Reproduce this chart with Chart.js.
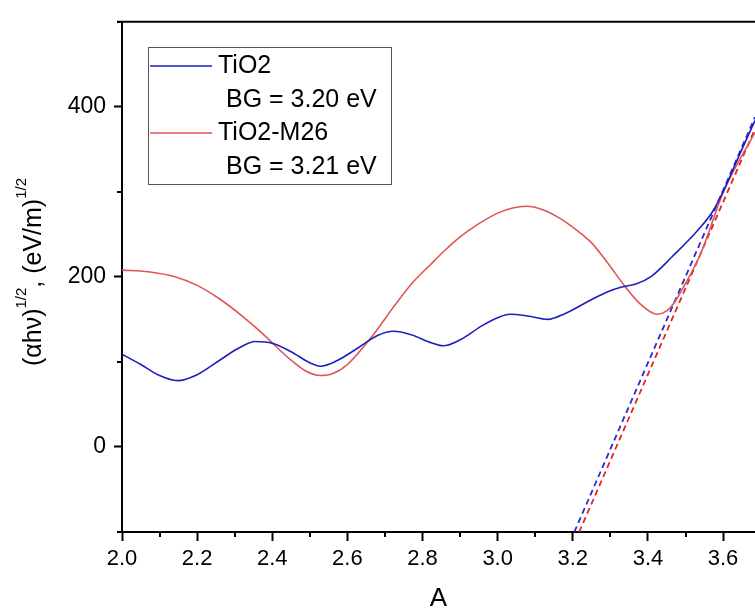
<!DOCTYPE html>
<html>
<head>
<meta charset="utf-8">
<script src="https://cdn.jsdelivr.net/npm/chart.js@4.4.1/dist/chart.umd.min.js"></script>
<style>
  html, body { margin: 0; padding: 0; background: #fff; }
</style>
</head>
<body>
<canvas id="chart" width="755" height="608"></canvas>
<script>
// photon energy (eV) and Tauc values
var tio2X = [2.00, 2.05, 2.10, 2.148, 2.20, 2.26, 2.31, 2.355, 2.40, 2.45, 2.50, 2.528, 2.57, 2.63, 2.68, 2.722, 2.77, 2.82, 2.855, 2.90, 2.96, 3.00, 3.032, 3.08, 3.133, 3.18, 3.24, 3.29, 3.33, 3.37, 3.41, 3.465, 3.531, 3.571, 3.60, 3.64, 3.685];
var tio2Y = [109, 97, 84, 78, 85, 102, 116, 124, 122, 112, 99, 95, 101, 117, 131, 136, 132, 123, 119, 126, 143, 152, 156, 154, 150, 157, 171, 182, 188, 192, 201, 224, 254, 276, 300, 340, 384];
var m26X = [2.00, 2.07, 2.143, 2.20, 2.26, 2.32, 2.37, 2.408, 2.45, 2.49, 2.528, 2.56, 2.60, 2.669, 2.72, 2.771, 2.82, 2.859, 2.90, 2.948, 3.00, 3.04, 3.076, 3.12, 3.169, 3.21, 3.25, 3.29, 3.337, 3.38, 3.425, 3.45, 3.469, 3.496, 3.54, 3.602, 3.685];
var m26Y = [208, 206, 200, 190, 174, 154, 135, 119, 102, 89, 84, 86, 97, 132, 163, 192, 214, 231, 247, 262, 275, 281, 283, 279, 268, 255, 240, 218, 190, 168, 156, 160, 169, 189, 227, 301, 370];

// linear fits (dashed)
var fitTio2X = [3.204, 3.685];
var fitTio2Y = [-100, 388];
var fitM26X = [3.217, 3.685];
var fitM26Y = [-100, 374];

var xTickLabels = ["2.0", "2.2", "2.4", "2.6", "2.8", "3.0", "3.2", "3.4", "3.6"];
var yTickLabels = [0, 200, 400];

var legendLines = ["TiO2", "BG = 3.20 eV", "TiO2-M26", "BG = 3.21 eV"];

var FONT = "'Liberation Sans', Arial, sans-serif";

function pairs(xs, ys) {
    var out = [];
    for (var i = 0; i < xs.length; i++) {
        out.push({ x: xs[i], y: ys[i] });
    }
    return out;
}

function isMinorX(v) {
    return Math.round(v * 10) % 2 !== 0;
}
function isMinorY(v) {
    return Math.round(v / 100) % 2 !== 0;
}

// short minor ticks, top frame line, y title and the legend box
var decorPlugin = {
    id: "decor",
    afterDraw: function (chart) {
        var ctx = chart.ctx;
        var area = chart.chartArea;
        var xs = chart.scales.x;
        var ys = chart.scales.y;

        ctx.save();
        ctx.strokeStyle = "#000";
        ctx.lineWidth = 2;
        ctx.beginPath();
        xs.ticks.forEach(function (t) {
            if (isMinorX(t.value)) {
                var px = Math.round(xs.getPixelForValue(t.value));
                ctx.moveTo(px, area.bottom);
                ctx.lineTo(px, area.bottom + 5);
            }
        });
        ys.ticks.forEach(function (t) {
            if (isMinorY(t.value)) {
                var py = Math.round(ys.getPixelForValue(t.value));
                ctx.moveTo(area.left, py);
                ctx.lineTo(area.left - 5, py);
            }
        });
        ctx.stroke();

        // top frame
        ctx.beginPath();
        ctx.moveTo(area.left - 5, area.top);
        ctx.lineTo(area.right, area.top);
        ctx.stroke();

        // y axis title with superscripts
        var parts = [
            ["(\u03b1h\u03bd)", false],
            ["1/2", true],
            [", ", false],
            ["(eV/m)", false],
            ["1/2", true]
        ];
        var mainFont = "25px " + FONT;
        var supFont = "15px " + FONT;
        var total = 0;
        parts.forEach(function (p) {
            ctx.font = p[1] ? supFont : mainFont;
            total += ctx.measureText(p[0]).width;
        });
        ctx.translate(34, 272);
        ctx.rotate(-Math.PI / 2);
        ctx.fillStyle = "#000";
        ctx.textBaseline = "middle";
        ctx.textAlign = "left";
        var cx = -total / 2;
        parts.forEach(function (p) {
            ctx.font = p[1] ? supFont : mainFont;
            ctx.fillText(p[0], cx, p[1] ? -12 : 0);
            cx += ctx.measureText(p[0]).width;
        });
        ctx.restore();

        // legend
        ctx.save();
        ctx.fillStyle = "#fff";
        ctx.fillRect(148, 47, 243, 137);
        ctx.strokeStyle = "#555";
        ctx.lineWidth = 1;
        ctx.strokeRect(148.5, 47.5, 243, 137);
        var ds = chart.data.datasets;
        ctx.lineWidth = 1.6;
        ctx.strokeStyle = ds[0].borderColor;
        ctx.beginPath();
        ctx.moveTo(150, 66);
        ctx.lineTo(212, 66);
        ctx.stroke();
        ctx.strokeStyle = ds[1].borderColor;
        ctx.beginPath();
        ctx.moveTo(150, 133);
        ctx.lineTo(212, 133);
        ctx.stroke();
        ctx.fillStyle = "#000";
        ctx.font = "25px " + FONT;
        ctx.textBaseline = "middle";
        ctx.fillText(legendLines[0], 218, 66);
        ctx.fillText(legendLines[1], 226, 100);
        ctx.fillText(legendLines[2], 218, 133);
        ctx.fillText(legendLines[3], 226, 167);
        ctx.restore();
    }
};

var chart = new Chart(document.getElementById("chart"), {
    type: "line",
    data: {
        datasets: [
            {
                label: "TiO2",
                data: pairs(tio2X, tio2Y),
                borderColor: "#1f1fbf",
                borderWidth: 1.6,
                pointRadius: 0,
                cubicInterpolationMode: "monotone",
                fill: false
            },
            {
                label: "TiO2-M26",
                data: pairs(m26X, m26Y),
                borderColor: "#df5555",
                borderWidth: 1.6,
                pointRadius: 0,
                cubicInterpolationMode: "monotone",
                fill: false
            },
            {
                label: "TiO2 fit",
                data: pairs(fitTio2X, fitTio2Y),
                borderColor: "#2a2ad0",
                borderWidth: 1.8,
                borderDash: [6, 4],
                pointRadius: 0,
                fill: false
            },
            {
                label: "TiO2-M26 fit",
                data: pairs(fitM26X, fitM26Y),
                borderColor: "#e82020",
                borderWidth: 1.8,
                borderDash: [6, 4],
                pointRadius: 0,
                fill: false
            }
        ]
    },
    options: {
        responsive: false,
        animation: false,
        layout: {
            padding: { top: 15, left: 0, right: 0, bottom: 0 }
        },
        scales: {
            x: {
                type: "linear",
                min: 2.0,
                max: 3.685,
                afterFit: function (scale) { scale.height = 76; },
                border: { display: true, color: "#000", width: 2 },
                grid: {
                    drawOnChartArea: false,
                    drawTicks: true,
                    tickLength: 9,
                    tickWidth: 2,
                    tickColor: function (c) {
                        return (c.tick && isMinorX(c.tick.value)) ? "rgba(0,0,0,0)" : "#000";
                    }
                },
                ticks: {
                    stepSize: 0.1,
                    includeBounds: false,
                    autoSkip: false,
                    maxRotation: 0,
                    padding: 5,
                    color: "#000",
                    font: { family: FONT, size: 22 },
                    callback: function (value) {
                        var s = Number(value).toFixed(1);
                        return xTickLabels.indexOf(s) >= 0 ? s : "";
                    }
                },
                title: {
                    display: true,
                    text: "A",
                    color: "#000",
                    font: { family: FONT, size: 26 },
                    padding: { top: 0, bottom: -6 }
                }
            },
            y: {
                min: -100,
                max: 500,
                afterFit: function (scale) { scale.width = 122; },
                border: { display: true, color: "#000", width: 2 },
                grid: {
                    drawOnChartArea: false,
                    drawTicks: true,
                    tickLength: 8,
                    tickWidth: 2,
                    tickColor: function (c) {
                        return (c.tick && isMinorY(c.tick.value)) ? "rgba(0,0,0,0)" : "#000";
                    }
                },
                ticks: {
                    stepSize: 100,
                    autoSkip: false,
                    padding: 8,
                    color: "#000",
                    font: { family: FONT, size: 23 },
                    callback: function (value) {
                        return yTickLabels.indexOf(value) >= 0 ? String(value) : "";
                    }
                }
            }
        },
        plugins: {
            legend: { display: false },
            tooltip: { enabled: false }
        }
    },
    plugins: [decorPlugin]
});
</script>
</body>
</html>
